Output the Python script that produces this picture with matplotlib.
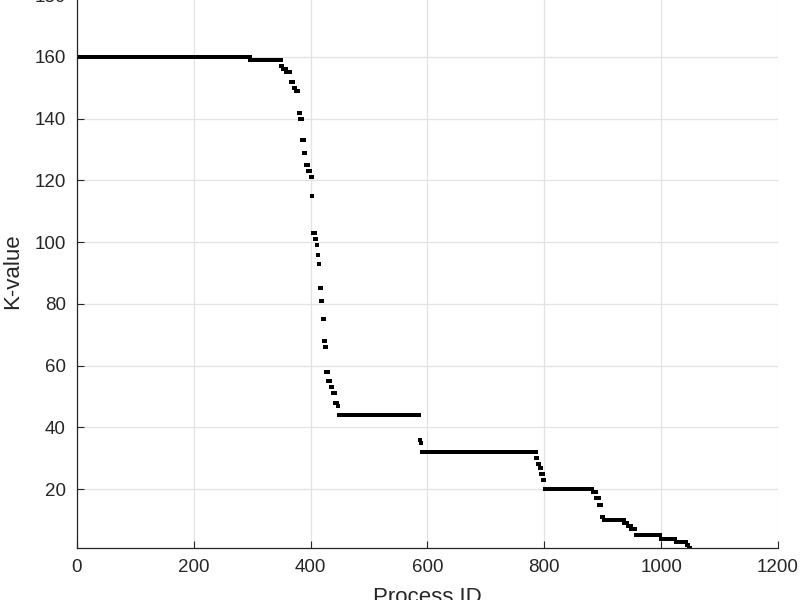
import numpy as np
import matplotlib.pyplot as plt

# runs of constant K-value: first process ID of each run and its K
run_start = [1, 297, 350, 352, 358, 366, 371, 375, 380, 382, 386, 389, 392,
             396, 400, 403, 404, 408, 410, 412, 414, 416, 418, 421, 423, 425,
             427, 430, 434, 438, 442, 446, 448, 587, 589, 590, 786, 789, 792,
             795, 798, 801, 883, 889, 894, 898, 902, 937, 943, 949, 957, 999,
             1025, 1044, 1047]
run_k = [160, 159, 157, 156, 155, 152, 150, 149, 142, 140, 133, 129, 125,
         123, 121, 115, 103, 101, 99, 96, 93, 85, 81, 75, 68, 66,
         58, 55, 53, 51, 48, 47, 44, 36, 35, 32, 30, 28, 27,
         25, 23, 20, 19, 17, 15, 11, 10, 9, 8, 7, 5, 4,
         3, 2, 1]
last_id = 1050

lengths = np.diff(run_start + [last_id + 1])
k_value = np.repeat(run_k, lengths)
process_id = np.arange(1, last_id + 1)

plt.rcParams['font.family'] = ['Liberation Sans', 'DejaVu Sans']

fig = plt.figure(figsize=(8, 6), dpi=100)
ax = fig.add_axes([0.09625, 0.087, 0.87625, 0.921])

ax.plot(process_id, k_value, 's', color='black', markersize=2.3, markeredgewidth=0)

ax.set_xlim(0, 1200)
ax.set_ylim(1, 180)
ax.set_xticks(np.arange(0, 1201, 200))
ax.set_yticks(np.arange(20, 181, 20))

ax.grid(True, color='#e3e3e3', linewidth=0.9)
ax.set_axisbelow(True)
for s in ['top', 'right']:
    ax.spines[s].set_visible(False)
for s in ['left', 'bottom']:
    ax.spines[s].set_color('#262626')
    ax.spines[s].set_linewidth(0.9)
ax.tick_params(direction='in', length=5, width=0.8, colors='#262626',
               labelsize=13.5, pad=8)

ax.set_xlabel('Process ID', fontsize=16, color='#262626', labelpad=8)
ax.set_ylabel('K-value', fontsize=16, color='#262626', labelpad=8)

fig.savefig('out.png', dpi=100)
